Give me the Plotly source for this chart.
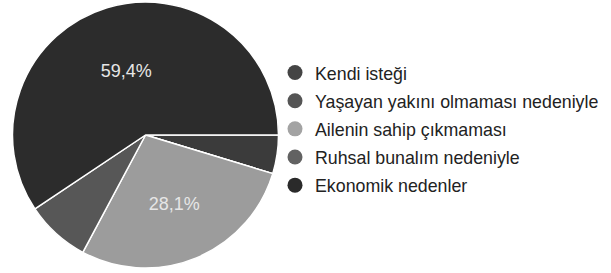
import plotly.graph_objects as go

labels = ["Kendi isteği", "Yaşayan yakını olmaması nedeniyle", "Ailenin sahip çıkmaması",
          "Ruhsal bunalım nedeniyle", "Ekonomik nedenler"]
counts = [3, 0, 18, 5, 38]
slice_colors = ["#3b3b3b", "#4f4f4f", "#9c9c9c", "#575757", "#2c2c2c"]
legend_colors = ["#444444", "#555555", "#a3a3a3", "#626262", "#2a2a2a"]
show_text = [False, False, True, False, True]

W, H = 611, 273
cx, cy, r = 145.5, 135, 133

fig = go.Figure()
fig.add_trace(go.Pie(
    labels=labels, values=counts, sort=False, direction="clockwise", rotation=90,
    marker=dict(colors=slice_colors, line=dict(color="white", width=1.5)),
    texttemplate=["%{percent:.1%}" if s else "" for s in show_text],
    textposition="inside", insidetextorientation="horizontal",
    textfont=dict(color="#e6e6e6", size=18, family="Liberation Sans, Arial, sans-serif"),
    showlegend=False, hoverinfo="label+percent",
    domain=dict(x=[(cx - r) / W, (cx + r) / W], y=[(H - cy - r) / H, (H - cy + r) / H]),
))
for i, (lab, col) in enumerate(zip(labels, legend_colors)):
    fig.add_trace(go.Scatter(
        x=[None], y=[None], mode="markers", name=lab, legendgroup=f"g{i}",
        marker=dict(color=col, size=15, symbol="circle"),
    ))

fig.update_layout(
    width=W, height=H, margin=dict(l=0, r=0, t=0, b=0),
    paper_bgcolor="white", plot_bgcolor="white",
    separators=",.",
    xaxis=dict(visible=False), yaxis=dict(visible=False),
    font=dict(family="Liberation Sans, Arial, sans-serif", size=18, color="#222222"),
    legend=dict(x=275 / W, y=(H - 129) / H, xanchor="left", yanchor="middle",
                tracegroupgap=2, traceorder="grouped", bgcolor="rgba(0,0,0,0)",
                font=dict(size=17.8, color="#222222")),
)
fig.write_html("out.html", config={"displayModeBar": False},
               post_script="document.body.style.margin='0';")
